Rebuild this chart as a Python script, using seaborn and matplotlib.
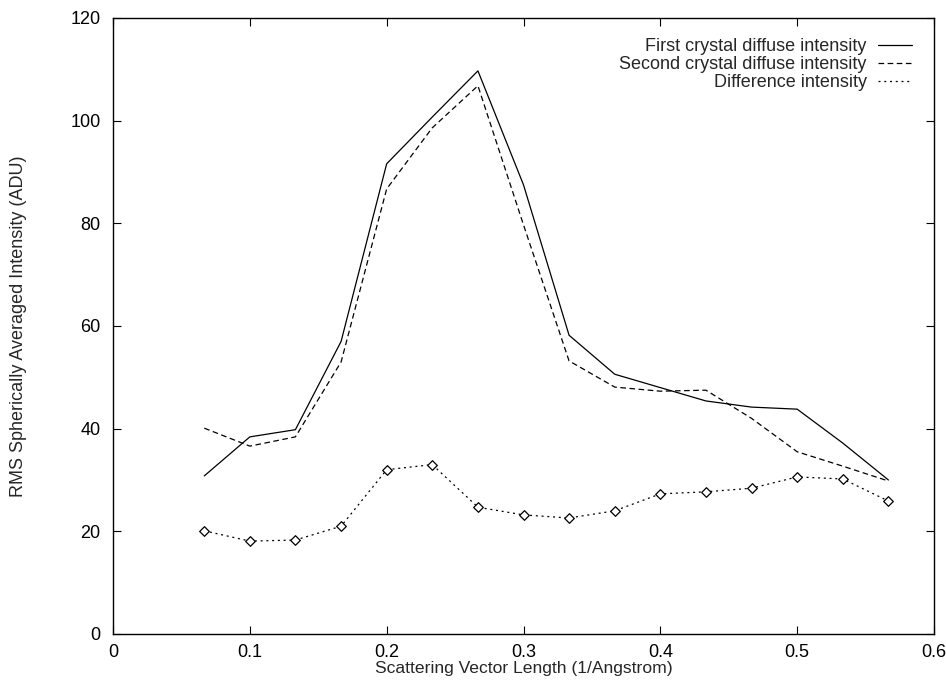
import numpy as np
import pandas as pd
import matplotlib
matplotlib.use("Agg")
import matplotlib.pyplot as plt
import seaborn as sns

# Data
q = [0.0667, 0.1, 0.1333, 0.1667, 0.2, 0.2333, 0.2667, 0.3, 0.3333, 0.3667,
     0.4, 0.4333, 0.4667, 0.5, 0.5333, 0.5667]
first = [30.8, 38.4, 39.8, 57.0, 91.6, 100.7, 109.7, 87.5, 58.2, 50.6,
         48.0, 45.4, 44.2, 43.8, 37.2, 30.0]
second = [40.1, 36.6, 38.4, 53.0, 86.7, 98.6, 106.8, 79.7, 53.2, 48.1,
          47.3, 47.5, 42.0, 35.5, 32.7, 29.8]
diff = [20.1, 18.1, 18.3, 21.0, 32.0, 33.0, 24.7, 23.2, 22.6, 24.0,
        27.3, 27.7, 28.4, 30.6, 30.2, 25.9]
labels = ["First crystal diffuse intensity",
          "Second crystal diffuse intensity",
          "Difference intensity"]
xticks = [0, 0.1, 0.2, 0.3, 0.4, 0.5, 0.6]
xticklabels = ["0", "0.1", "0.2", "0.3", "0.4", "0.5", "0.6"]
yticks = [0, 20, 40, 60, 80, 100, 120]

sns.set_style("ticks")
plt.rcParams['font.family'] = ['Liberation Sans', 'DejaVu Sans']
FS = 13

fig = plt.figure(figsize=(9.46, 6.81), dpi=100)
ax = fig.add_axes([113/946, 1 - 634/681, (934 - 113)/946, (634 - 18)/681])

df = pd.DataFrame({"q": q, "first": first, "second": second, "diff": diff})

sns.lineplot(data=df, x="q", y="first", ax=ax, color="black", lw=0.9,
             label=labels[0])
sns.lineplot(data=df, x="q", y="second", ax=ax, color="black", lw=0.9,
             label=labels[1]).lines[-1].set_dashes([4.5, 2.8])
sns.lineplot(data=df, x="q", y="diff", ax=ax, color="black", lw=0.9,
             label=labels[2]).lines[-1].set_dashes([1.6, 3.0])
sns.scatterplot(data=df, x="q", y="diff", ax=ax, marker="D", s=24,
                facecolor="white", edgecolor="black", linewidth=0.9,
                zorder=5, legend=False)

ax.set_xlim(0, 0.6)
ax.set_ylim(0, 120)
ax.set_xticks(xticks)
ax.set_xticklabels(xticklabels)
ax.set_yticks(yticks)
ax.tick_params(direction="in", length=6, width=0.8, top=True, right=True,
               labelsize=FS, colors="black")
ax.tick_params(axis="y", pad=9)
ax.tick_params(axis="x", pad=7.5)
for s in ax.spines.values():
    s.set_linewidth(1.0)
    s.set_color("black")

ax.set_xlabel("Scattering Vector Length (1/Angstrom)", fontsize=12.6)
ax.set_ylabel("RMS Spherically Averaged Intensity (ADU)", fontsize=FS)
ax.xaxis.set_label_coords(0.5, -(661 - 634) / 616)
ax.yaxis.set_label_coords(-(113 - 27) / 821, 0.5)

leg = ax.legend(loc="upper right", bbox_to_anchor=((912 - 113) / 821, 1 - 20 / 616),
                frameon=False, markerfirst=False, fontsize=FS, handlelength=1.9,
                handletextpad=0.6, labelspacing=0.06, borderpad=0,
                borderaxespad=0)

fig.savefig("out.png", dpi=100, facecolor="white")
